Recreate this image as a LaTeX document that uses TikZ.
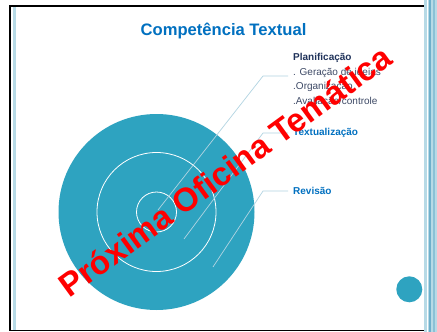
\documentclass[tikz,border=0pt]{standalone}
\usepackage{fontspec}
\setmainfont{Liberation Sans}
\usepackage{xcolor}
\usetikzlibrary{positioning}

\definecolor{discblue}{RGB}{46,163,192}
\definecolor{titleblue}{RGB}{0,112,192}
\definecolor{navytext}{RGB}{31,50,90}
\definecolor{itemgray}{RGB}{62,74,102}
\definecolor{linkblue}{RGB}{178,212,226}
\definecolor{stripelight}{RGB}{183,218,230}
\definecolor{stripedark}{RGB}{110,176,204}

\begin{document}
\begin{tikzpicture}[
    x=1pt, y=-1pt,
    ring/.style={draw=white, line width=0.8pt},
    link/.style={draw=linkblue, line width=0.7pt},
    heading/.style={anchor=west, inner xsep=5pt, inner ysep=0pt, font=\bfseries\fontsize{10}{12}\selectfont, text=titleblue},
]
    \useasboundingbox (0,0) rectangle (437,332);
    \fill[white] (0,0) rectangle (437,332);

    % slide frame and side stripes
    \draw[line width=1.6pt] (424,5.8) -- (9.8,5.8) -- (9.8,330.4) -- (424,330.4);
    \fill[stripelight] (12.8,6.6) rectangle (15.6,329.6);
    \fill[stripelight] (424,0) rectangle (427,332);
    \fill[stripelight] (428,0) rectangle (429,332);
    \fill[stripedark] (429.3,0) rectangle (431,332);
    \fill[stripelight] (431,0) rectangle (433.4,332);
    \fill[stripedark!60!stripelight] (433.4,0) rectangle (434.6,332);
    \fill[stripelight] (434.6,0) rectangle (437,332);

    % concentric discs
    \fill[discblue] (156.5,212) circle (98);
    \draw[ring] (156.5,212) circle (59.5);
    \draw[ring] (156.5,212) circle (20);
    \fill[discblue] (409.3,289.3) circle (13);

    \node[anchor=base, font=\bfseries\fontsize{16.6}{20}\selectfont, text=titleblue] (title) at (223.5,35.7) {Competência Textual};

    \node[anchor=west, align=left, inner xsep=5pt, inner ysep=0pt, font=\fontsize{10}{14.8}\selectfont, text=itemgray] (planif) at (288,80)
        {\textcolor{navytext}{\bfseries Planificação}\\. Geração de ideias\\.Organização\\.Avaliação/controle};
    \node[heading] (textual) at (288,133) {Textualização};
    \node[heading] (revisao) at (288,191) {Revisão};

    \coordinate (in1) at (158,210);
    \coordinate (in2) at (184,239);
    \coordinate (in3) at (213,267);
    \coordinate (bend1) at (263,76);
    \coordinate (bend2) at (263,133);
    \coordinate (bend3) at (263,191);

    \draw[link] (in1) -- (bend1) -- (bend1 -| planif.west);
    \draw[link] (in2) -- (bend2) -- (textual.west);
    \draw[link] (in3) -- (bend3) -- (revisao.west);

    % watermark
    \node[rotate=36, text=red, font=\bfseries\fontsize{33}{33}\selectfont] (stamp) at (225,171) {Próxima Oficina Temática};
\end{tikzpicture}
\end{document}
